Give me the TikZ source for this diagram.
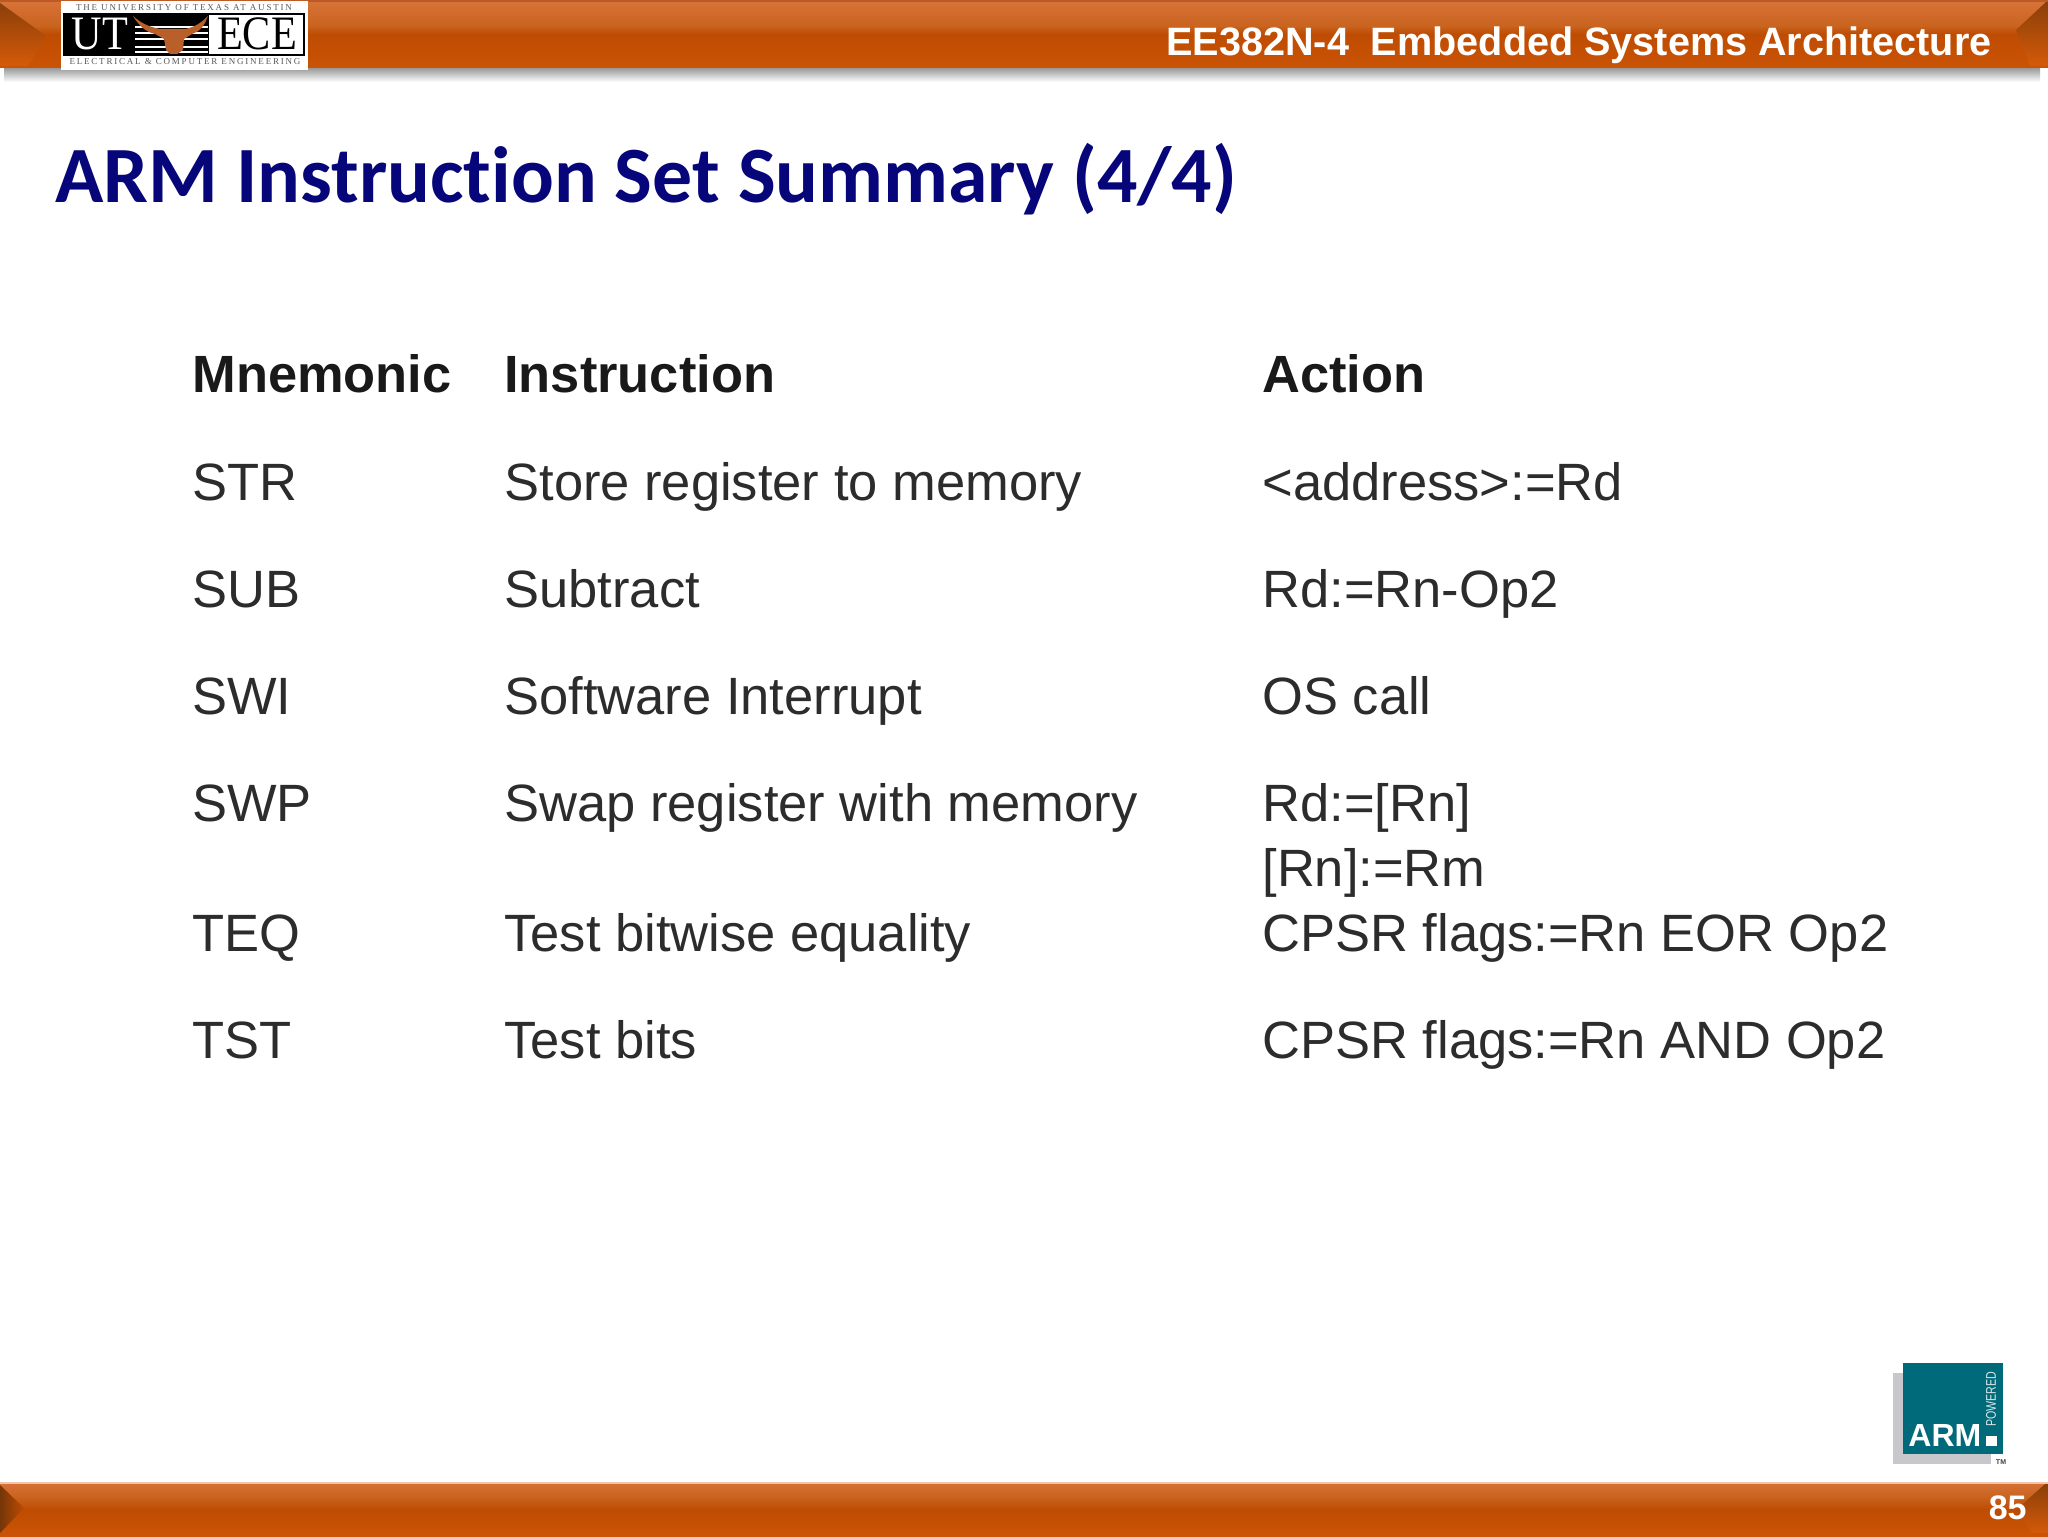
\documentclass[tikz,border=0pt]{standalone}
\usepackage{fontspec}
\setmainfont{Liberation Sans}
\newfontfamily\titlefont[Ligatures=NoCommon]{Carlito}
\newfontfamily\logotiny[LetterSpace=20]{Liberation Serif}
\newfontfamily\logobigfont[FakeStretch=0.88]{Liberation Serif}
\newfontfamily\poweredfont[FakeStretch=0.76]{Liberation Sans}
\definecolor{barA}{HTML}{E88040}
\definecolor{barB}{HTML}{D55A08}
\definecolor{barC}{HTML}{BE4C02}
\definecolor{barD}{HTML}{C9631F}
\definecolor{barE}{HTML}{E07C45}
\definecolor{barF}{HTML}{D67036}
\definecolor{barG}{HTML}{BC5A25}
\definecolor{barDark}{HTML}{8A3F0A}
\definecolor{navy}{HTML}{06067A}
\definecolor{tabletext}{HTML}{2C2C2C}
\definecolor{armteal}{HTML}{006A7A}
\definecolor{armgrey}{HTML}{C8C8CC}
\definecolor{horn}{HTML}{B9602A}
\pgfdeclareverticalshading{topbar}{100bp}{
 color(0bp)=(barB); color(4bp)=(barB); color(50bp)=(barC); color(56bp)=(barD); color(84bp)=(barE); color(95bp)=(barF); color(100bp)=(barG)}
\pgfdeclareverticalshading{botbar}{100bp}{
 color(0bp)=(barA); color(5bp)=(barB); color(50bp)=(barC); color(62bp)=(barD); color(85bp)=(barE); color(93bp)=(barG); color(100bp)=(barG)}
\tikzset{
 x=0.5pt,y=-0.5pt,
 cell/.style={anchor=base west,inner sep=0pt,text=tabletext,font=\fontsize{26.25}{30}\selectfont},
 headcell/.style={cell,text=black!90,font=\fontsize{26.2}{30}\selectfont\bfseries},
 barlabel/.style={inner sep=0pt,text=white,font=\fontsize{19.8}{24}\selectfont\bfseries},
 logotext/.style={inner sep=0pt,font=\logotiny\fontsize{4.5}{5}\selectfont,text=black!65},
 logobig/.style={inner sep=0pt,font=\logobigfont\fontsize{24}{26}\selectfont},
 cornerdark/.style={top color=barDark,bottom color=barB},
}
\begin{document}
\begin{tikzpicture}
\useasboundingbox (0,0) rectangle (2048,1536);
\fill[white] (0,0) rectangle (2048,1536);
% top bar shadow
\shade[top color=black!40,bottom color=white] (4,68) rectangle (2040,82);
% top bar
\shade[shading=topbar] (0,0) rectangle (2048,68);
\fill[barG] (0,0) rectangle (2048,2);
% corners of top bar
\shade[cornerdark] (0,3) -- (46,36) -- (28,66) -- (0,66) -- cycle;
\shade[cornerdark] (2046,2) -- (2048,2) -- (2048,66) -- (2030,66) -- (2016,30) -- cycle;
% bottom bar
\shade[shading=botbar] (0,1483) rectangle (2048,1536);
\fill[white!55!barE] (0,1482) rectangle (2048,1483.5);
\shade[left color=barDark!85!black,right color=barC] (0,1485) -- (24,1508) -- (0,1533) -- cycle;
\shade[cornerdark] (2045,1484) -- (2048,1484) -- (2048,1533) -- (2032,1533) -- (2016,1510) -- cycle;
% labels in bars
\node[barlabel,anchor=base east] (course) at (1992,56) {EE382N-4\hspace{0.55em}Embedded Systems Architecture};
\node[barlabel,anchor=base east,font=\fontsize{17}{20}\selectfont\bfseries] (page) at (2027,1519) {85};
% UT logo
\fill[white] (61,1) rectangle (308,70);
\fill[black] (63,13) rectangle (305,56);
\fill[white] (209,15) rectangle (303,54);
\node[logotext] (uttop) at (184,8) {THE UNIVERSITY OF TEXAS AT AUSTIN};
\node[logotext] (utbot) at (185,62) {ELECTRICAL \& COMPUTER ENGINEERING};
\node[logobig,text=white,anchor=base] (utut) at (100,50) {UT};
\node[logobig,text=black,anchor=base] (utece) at (257,50) {ECE};
\foreach \yy in {26,32,38,46,51} {\fill[white] (135,\yy) rectangle (208,\yy+1.6);}
\fill[horn] (133,16) .. controls (142,24) and (150,27) .. (160,29) -- (185,29) .. controls (195,27) and (201,23) .. (208,16)
 .. controls (204,27) and (199,32) .. (192,34) -- (184,39) -- (183,50) -- (177,54) -- (170,54) -- (166,50) -- (164,39) -- (155,34) .. controls (146,32) and (139,26) .. (133,16) -- cycle;
% title
\node[anchor=base west,inner sep=0pt,text=navy,font=\titlefont\fontsize{39.9}{44}\selectfont\bfseries] (title) at (55,202) {ARM Instruction Set Summary (4/4)};
% table
\node[headcell] (h1) at (192,392) {Mnemonic};
\node[headcell] (h2) at (504,392) {Instruction};
\node[headcell] (h3) at (1262,392) {Action};
\node[cell] (a1) at (192,500) {STR};
\node[cell] (b1) at (504,500) {Store register to memory};
\node[cell] (c1) at (1262,500) {<address>:=Rd};
\node[cell] (a2) at (192,607) {SUB};
\node[cell] (b2) at (504,607) {Subtract};
\node[cell] (c2) at (1262,607) {Rd:=Rn-Op2};
\node[cell] (a3) at (192,714) {SWI};
\node[cell] (b3) at (504,714) {Software Interrupt};
\node[cell] (c3) at (1262,714) {OS call};
\node[cell] (a4) at (192,821) {SWP};
\node[cell] (b4) at (504,821) {Swap register with memory};
\node[cell] (c4) at (1262,821) {Rd:=[Rn]};
\node[cell] (c4b) at (1262,886) {[Rn]:=Rm};
\node[cell] (a5) at (192,951) {TEQ};
\node[cell] (b5) at (504,951) {Test bitwise equality};
\node[cell] (c5) at (1262,951) {CPSR flags:=Rn EOR Op2};
\node[cell] (a6) at (192,1058) {TST};
\node[cell] (b6) at (504,1058) {Test bits};
\node[cell] (c6) at (1262,1058) {CPSR flags:=Rn AND Op2};
% ARM logo
\fill[armgrey] (1893,1373) rectangle (1991,1464);
\fill[armteal] (1903,1363) rectangle (2003,1454);
\node[inner sep=0pt,text=white,anchor=base west,font=\fontsize{16}{20}\selectfont\bfseries] (armword) at (1908,1446) {ARM};
\fill[white] (1986,1436) rectangle (1997,1446);
\node[inner sep=0pt,text=white!85!armteal,rotate=90,anchor=west,font=\poweredfont\fontsize{7}{9}\selectfont] (powered) at (1991,1427) {POWERED};
\node[inner sep=0pt,text=black!75,font=\fontsize{3.5}{4}\selectfont\bfseries] (tm) at (2001,1462) {TM};
\end{tikzpicture}
\end{document}
